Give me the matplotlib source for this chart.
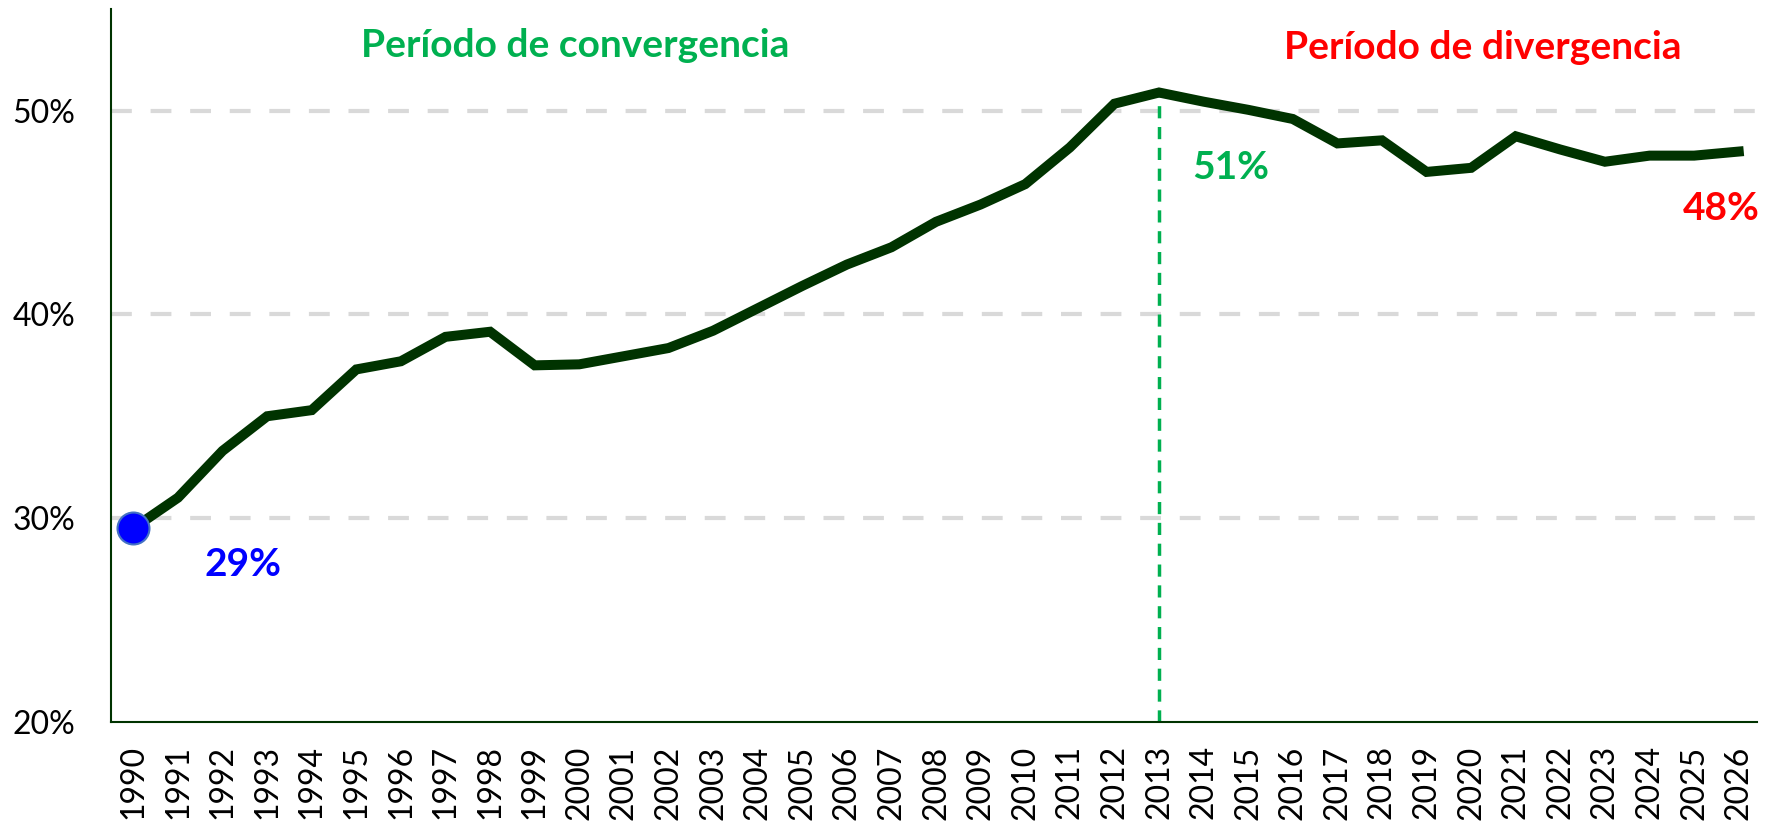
import numpy as np
import matplotlib
matplotlib.use("Agg")
import matplotlib.pyplot as plt

plt.rcParams["font.family"] = ["Lato", "DejaVu Sans"]

years = list(range(1990, 2027))
share = [29.5, 31.0, 33.3, 35.0, 35.3, 37.3, 37.7, 38.9, 39.15, 37.5,
         37.55, 37.95, 38.35, 39.2, 40.3, 41.4, 42.45, 43.3, 44.55, 45.4,
         46.4, 48.2, 50.35, 50.9, 50.45, 50.05, 49.6, 48.4, 48.55, 47.0,
         47.2, 48.75, 48.1, 47.5, 47.8, 47.8, 48.0]
yticks = [20, 30, 40, 50]
peak_year = 2013

LINE_COL  = "#003300"
GREEN     = "#00B050"
RED       = "#FF0000"
BLUE      = "#0000FF"

fig = plt.figure(figsize=(17.77, 8.21), dpi=100)
ax = fig.add_axes([0.0625, 0.121, 0.926, 0.868])

x = np.arange(len(years))
ax.plot(x, share, color=LINE_COL, linewidth=7.2, solid_joinstyle="miter", zorder=3)
ax.plot(x[0], share[0], "o", markersize=23, markerfacecolor=BLUE,
        markeredgecolor="#4472C4", markeredgewidth=1.5, zorder=4)

# vertical marker at peak year
ip = years.index(peak_year)
ax.vlines(ip, 20, share[ip], colors=GREEN, linewidth=2.5,
          linestyles=(0, (3.5, 2.5)), zorder=2)

ax.set_ylim(20, 55)
ax.set_xlim(-0.5, len(years) - 0.6)
ax.set_yticks(yticks)
ax.set_yticklabels([f"{v}%" for v in yticks], fontsize=23)
ax.set_xticks(x)
ax.set_xticklabels([str(y) for y in years], rotation=90, fontsize=23)
ax.tick_params(axis="y", length=0, pad=26)
ax.tick_params(axis="x", length=0, pad=17)

for v in yticks[1:]:
    ax.axhline(v, color="#D9D9D9", linewidth=3, linestyle=(0, (5, 4.5)), zorder=1)

for s in ["top", "right"]:
    ax.spines[s].set_visible(False)
for s in ["left", "bottom"]:
    ax.spines[s].set_color(LINE_COL)
    ax.spines[s].set_linewidth(1.5)

ax.text(9.9, 53.2, "Período de convergencia", color=GREEN, fontsize=28,
        fontweight="bold", ha="center", va="center")
ax.text(30.25, 53.1, "Período de divergencia", color=RED, fontsize=28,
        fontweight="bold", ha="center", va="center")
ax.text(2.45, 27.7, "29%", color=BLUE, fontsize=28, fontweight="bold",
        ha="center", va="center")
ax.text(24.6, 47.2, "51%", color=GREEN, fontsize=28, fontweight="bold",
        ha="center", va="center")
ax.text(35.6, 45.2, "48%", color=RED, fontsize=28, fontweight="bold",
        ha="center", va="center", clip_on=False)

fig.savefig("out.png", dpi=100)
